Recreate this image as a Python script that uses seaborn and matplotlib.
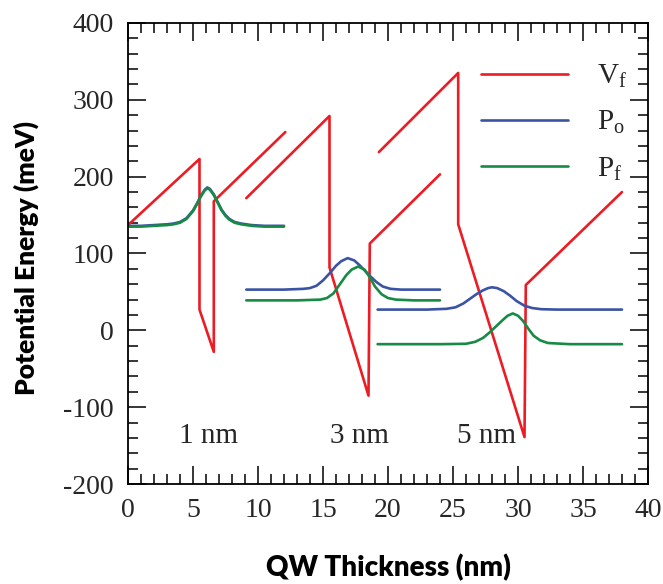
import numpy as np
import pandas as pd
import matplotlib
matplotlib.use("Agg")
import matplotlib.pyplot as plt
import seaborn as sns
from matplotlib.lines import Line2D

# ---- data ----
# Potential profile V_f (three separate wells: 1 nm, 3 nm, 5 nm)
vf1_x = [0.0, 5.5, 5.5, 6.6, 6.6, 12.1]
vf1_y = [137, 223, 27, -28, 168, 258]
vf2_x = [9.1, 15.5, 15.5, 18.5, 18.6, 24.0]
vf2_y = [172, 279, 82, -85, 113, 203]
vf3_x = [19.3, 25.4, 25.4, 30.5, 30.6, 38.0]
vf3_y = [232, 335, 138, -139, 59, 180]

# P_o curves
po1_x = [0, 1, 2, 3, 3.5, 4, 4.5, 5, 5.3, 5.6, 5.9, 6.1, 6.3, 6.6, 6.9, 7.2, 7.5, 7.8, 8.2, 8.7, 9.5, 10.5, 12]
po1_y = [136, 136, 137, 138, 139, 141, 146, 156, 165, 175, 183, 186, 184, 177, 167, 157, 150, 145, 141, 139, 137, 136, 136]
po2_x = [9.1, 12, 13.5, 14.0, 14.5, 15.0, 15.5, 16.0, 16.4, 16.9, 17.4, 17.8, 18.2, 18.6, 19.1, 19.6, 20.2, 21, 24.0]
po2_y = [53, 53, 54, 55, 58, 65, 74, 84, 90, 94, 91, 85, 78, 71, 63, 57, 54, 53, 53]
po3_x = [19.2, 23, 24.5, 25.2, 25.8, 26.3, 26.8, 27.3, 27.7, 28.0, 28.4, 28.9, 29.4, 29.9, 30.5, 31.1, 31.8, 33, 38.0]
po3_y = [27, 27, 28, 30, 35, 41, 47, 52, 55, 56, 55, 51, 45, 38, 32, 29, 27.5, 27, 27]

# P_f curves
pf1_x = [0, 1, 2, 3, 3.5, 4, 4.5, 5, 5.3, 5.6, 5.9, 6.1, 6.3, 6.6, 6.9, 7.2, 7.5, 7.8, 8.2, 8.7, 9.5, 10.5, 12]
pf1_y = [135, 135, 136, 137, 138, 140, 145, 155, 164, 174, 182, 185, 183, 176, 166, 156, 149, 144, 140, 138, 136, 135, 135]
pf2_x = [9.1, 13, 14.8, 15.3, 15.8, 16.3, 16.8, 17.2, 17.7, 18.2, 18.6, 19.0, 19.5, 20.0, 20.6, 22, 24.0]
pf2_y = [39, 39, 40, 42, 48, 60, 72, 79, 83, 79, 69, 57, 47, 42, 40, 39, 39]
pf3_x = [19.2, 24, 26.0, 26.7, 27.3, 27.8, 28.3, 28.8, 29.2, 29.6, 30.0, 30.4, 30.8, 31.2, 31.7, 32.3, 34, 38.0]
pf3_y = [-18, -18, -17.5, -15, -10, -3, 5, 13, 19, 22, 19, 12, 2, -7, -13, -16.5, -18, -18]

series_names = ["V_f", "P_o", "P_f"]
legend_labels = [r"$\mathrm{V_f}$", r"$\mathrm{P_o}$", r"$\mathrm{P_f}$"]
well_labels = ["1 nm", "3 nm", "5 nm"]
well_label_x = [6.2, 17.8, 27.6]
well_label_y = [-137, -137, -137]

x_ticks = [0, 5, 10, 15, 20, 25, 30, 35, 40]
y_ticks = [-200, -100, 0, 100, 200, 300, 400]

colors = {"V_f": "#ED1C24", "P_o": "#3A53A4", "P_f": "#178A45"}

# ---- build a long table ----
rows = []
segs = [("V_f", 1, vf1_x, vf1_y), ("V_f", 2, vf2_x, vf2_y), ("V_f", 3, vf3_x, vf3_y),
        ("P_o", 1, po1_x, po1_y), ("P_o", 2, po2_x, po2_y), ("P_o", 3, po3_x, po3_y),
        ("P_f", 1, pf1_x, pf1_y), ("P_f", 2, pf2_x, pf2_y), ("P_f", 3, pf3_x, pf3_y)]
for name, seg, xs, ys in segs:
    for i, (xv, yv) in enumerate(zip(xs, ys)):
        rows.append({"series": name, "segment": f"{name}-{seg}", "x": xv, "y": yv, "order": i})
df = pd.DataFrame(rows)

sns.set_theme(style="ticks")
plt.rcParams["mathtext.fontset"] = "custom"
plt.rcParams["mathtext.rm"] = "Liberation Serif"
plt.rcParams["mathtext.it"] = "Liberation Serif:italic"

fig = plt.figure(figsize=(6.63, 5.84), dpi=100)
ax = fig.add_axes([128 / 663, 1 - 484 / 584, 520 / 663, 461 / 584])

for name in series_names:
    sub = df[df["series"] == name]
    sns.lineplot(data=sub, x="x", y="y", units="segment", estimator=None, sort=False,
                 color=colors[name], linewidth=1.9, ax=ax, legend=False)

ax.set_xlim(0, 40)
ax.set_ylim(-200, 400)
ax.set_xticks(x_ticks)
ax.set_yticks(y_ticks)
ax.set_xticks(np.arange(0, 41, 1), minor=True)
ax.set_yticks(np.arange(-200, 401, 20), minor=True)
ax.set_xticklabels([str(v) for v in x_ticks], fontfamily="Liberation Serif", fontsize=20)
ax.set_yticklabels([str(v) for v in y_ticks], fontfamily="Liberation Serif", fontsize=20)
ax.tick_params(which="both", direction="in", top=True, right=True, color="black", width=1.1)
ax.tick_params(which="major", length=13, pad=10)
ax.tick_params(which="minor", length=7)
for s in ax.spines.values():
    s.set_color("black")
    s.set_linewidth(1.3)

ax.set_xlabel("QW Thickness (nm)", fontfamily="Lato", fontweight="heavy", fontsize=20, color="black")
ax.set_ylabel("Potential Energy (meV)", fontfamily="Lato", fontweight="heavy", fontsize=19, color="black")
ax.xaxis.set_label_coords(0.5, -0.152)
ax.yaxis.set_label_coords(-0.172, 0.49)

for t, xv, yv in zip(well_labels, well_label_x, well_label_y):
    ax.text(xv, yv, t, ha="center", va="center", fontfamily="Liberation Serif", fontsize=21)

handles = [Line2D([], [], color=colors[n], linewidth=1.9) for n in series_names]
ax.legend(handles, legend_labels, loc="upper right", bbox_to_anchor=(1.0, 0.96), frameon=False,
          fontsize=21, handlelength=3.0, handletextpad=1.0, labelspacing=0.62, borderaxespad=0.3)

fig.savefig("out.png", dpi=100)
